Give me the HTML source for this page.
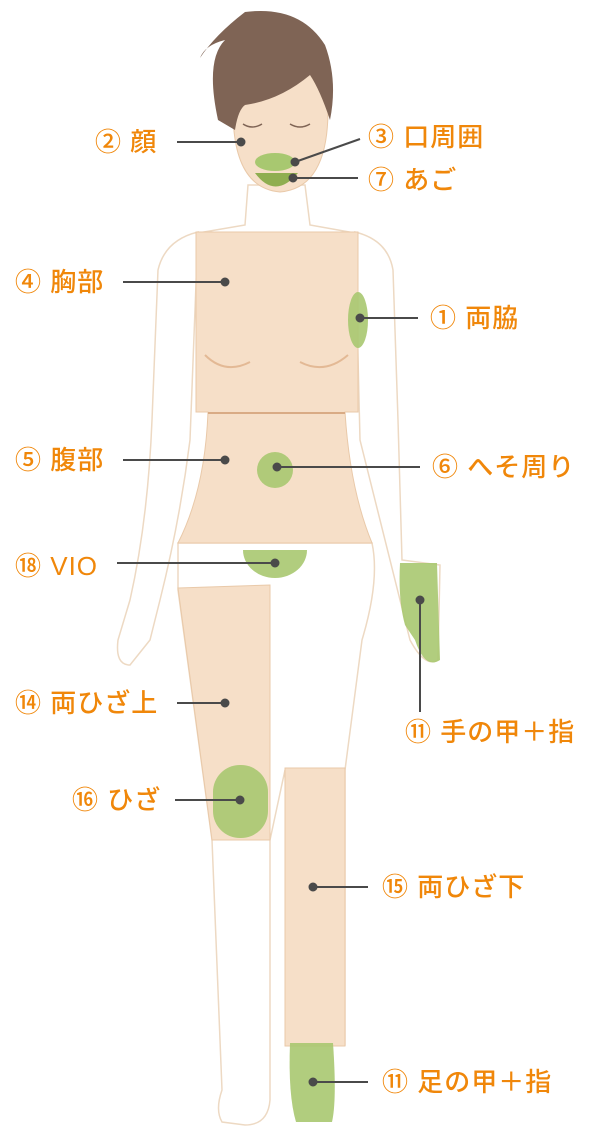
<!DOCTYPE html>
<html><head><meta charset="utf-8"><style>
body{margin:0;background:#fff;width:600px;height:1140px;overflow:hidden;font-family:"Liberation Sans","Noto Sans CJK JP",sans-serif}
.l{position:absolute;color:#f0870a;font-size:26px;line-height:28px;white-space:nowrap;letter-spacing:1px;font-weight:500}
svg{position:absolute;left:0;top:0}
</style></head><body>
<svg width="600" height="1140" viewBox="0 0 600 1140">
<g stroke="#edd9c3" stroke-width="1.5" fill="#fff">
<path d="M198 232 Q165 240 158 270 L152 420 Q148 520 130 600 L118 640 Q115 665 130 665 L150 640 L160 600 Q180 520 190 440 Z"/>
<path d="M355 232 Q388 240 393 270 L398 420 Q400 500 402 560 L440 565 L438 660 Q425 668 410 640 L400 600 Q380 520 360 440 Z"/>
<path d="M248 185 L305 185 L310 225 L355 233 L198 233 L245 225 Z"/>
<path d="M178 543 L372 543 Q380 580 362 640 L345 770 L345 1045 L290 1045 L285 770 L270 840 L270 1100 Q268 1125 245 1125 L222 1122 Q215 1110 222 1090 L212 840 L178 590 Z"/>
</g>
<path d="M196 232 L358 232 L358 412 L345 412 Q350 490 372 543 L178 543 Q205 490 208 412 L196 412 Z" fill="#f6dfc8" stroke="#e9c9a9"/>
<line x1="208" y1="413" x2="345" y2="413" stroke="#d9ab85" stroke-width="2"/>
<path d="M205 355 Q225 375 250 362 M300 362 Q325 375 348 355" stroke="#e3b995" fill="none" stroke-width="2"/>
<path d="M178 588 L270 585 L270 840 L212 840 Z" fill="#f6dfc8" stroke="#e9c9a9"/>
<rect x="285" y="768" width="60" height="278" fill="#f6dfc8" stroke="#e9c9a9"/>
<g fill="#a8c870" opacity="0.9">
<ellipse cx="358" cy="320" rx="10" ry="28"/>
<circle cx="275" cy="470" r="18"/>
<path d="M243 550 A32 28 0 0 0 307 550 Z"/>
<rect x="213" y="765" width="55" height="73" rx="27"/>
<path d="M400 563 L437 563 L440 660 Q425 670 415 640 L405 625 Q398 600 400 563 Z"/>
<path d="M290 1043 L333 1043 Q337 1100 332 1122 L296 1122 Q288 1095 290 1043 Z"/>
</g>
<path d="M233 110 Q233 188 280 192 Q328 188 328 110 Q325 65 280 62 Q236 65 233 110 Z" fill="#f6dfc8" stroke="#e9c9a9"/>
<ellipse cx="275" cy="162" rx="20" ry="9" fill="#a8c870"/>
<path d="M255 173 Q275 200 298 173 Z" fill="#8fae50"/>
<path d="M218 120 Q205 60 225 40 Q205 45 200 58 Q215 35 245 12 Q300 5 325 45 Q338 80 330 120 Q320 90 310 75 Q280 100 245 105 Q238 110 235 130 Z" fill="#7f6455"/>
<path d="M243 124 Q252 130 262 124 M290 124 Q300 130 310 124" stroke="#7f6455" fill="none" stroke-width="1.5"/>
</svg>
<svg width="600" height="1140" viewBox="0 0 600 1140">
<g stroke="#4a4a4a" stroke-width="2" fill="#4a4a4a">
<line x1="177" y1="142" x2="241" y2="142"/><circle cx="241" cy="142" r="3.5"/>
<line x1="295" y1="162" x2="360" y2="139"/><circle cx="295" cy="162" r="3.5"/>
<line x1="293" y1="178" x2="358" y2="178"/><circle cx="293" cy="178" r="3.5"/>
<line x1="123" y1="282" x2="225" y2="282"/><circle cx="225" cy="282" r="3.5"/>
<line x1="360" y1="318" x2="418" y2="318"/><circle cx="360" cy="318" r="3.5"/>
<line x1="123" y1="460" x2="225" y2="460"/><circle cx="225" cy="460" r="3.5"/>
<line x1="277" y1="467" x2="420" y2="467"/><circle cx="277" cy="467" r="3.5"/>
<line x1="117" y1="563" x2="275" y2="563"/><circle cx="275" cy="563" r="3.5"/>
<line x1="420" y1="600" x2="420" y2="712"/><circle cx="420" cy="600" r="3.5"/>
<line x1="177" y1="703" x2="225" y2="703"/><circle cx="225" cy="703" r="3.5"/>
<line x1="175" y1="800" x2="240" y2="800"/><circle cx="240" cy="800" r="3.5"/>
<line x1="313" y1="887" x2="368" y2="887"/><circle cx="313" cy="887" r="3.5"/>
<line x1="313" y1="1082" x2="368" y2="1082"/><circle cx="313" cy="1082" r="3.5"/>
</g></svg>
<div class="l" style="left:95px;top:128px">② 顔</div>
<div class="l" style="left:368px;top:123px">③ 口周囲</div>
<div class="l" style="left:368px;top:166px">⑦ あご</div>
<div class="l" style="left:15px;top:268px">④ 胸部</div>
<div class="l" style="left:430px;top:304px">① 両脇</div>
<div class="l" style="left:15px;top:446px">⑤ 腹部</div>
<div class="l" style="left:432px;top:453px">⑥ へそ周り</div>
<div class="l" style="left:15px;top:552px">⑱ VIO</div>
<div class="l" style="left:15px;top:689px">⑭ 両ひざ上</div>
<div class="l" style="left:405px;top:718px">⑪ 手の甲＋指</div>
<div class="l" style="left:72px;top:786px">⑯ ひざ</div>
<div class="l" style="left:382px;top:873px">⑮ 両ひざ下</div>
<div class="l" style="left:382px;top:1068px">⑪ 足の甲＋指</div>
</body></html>
